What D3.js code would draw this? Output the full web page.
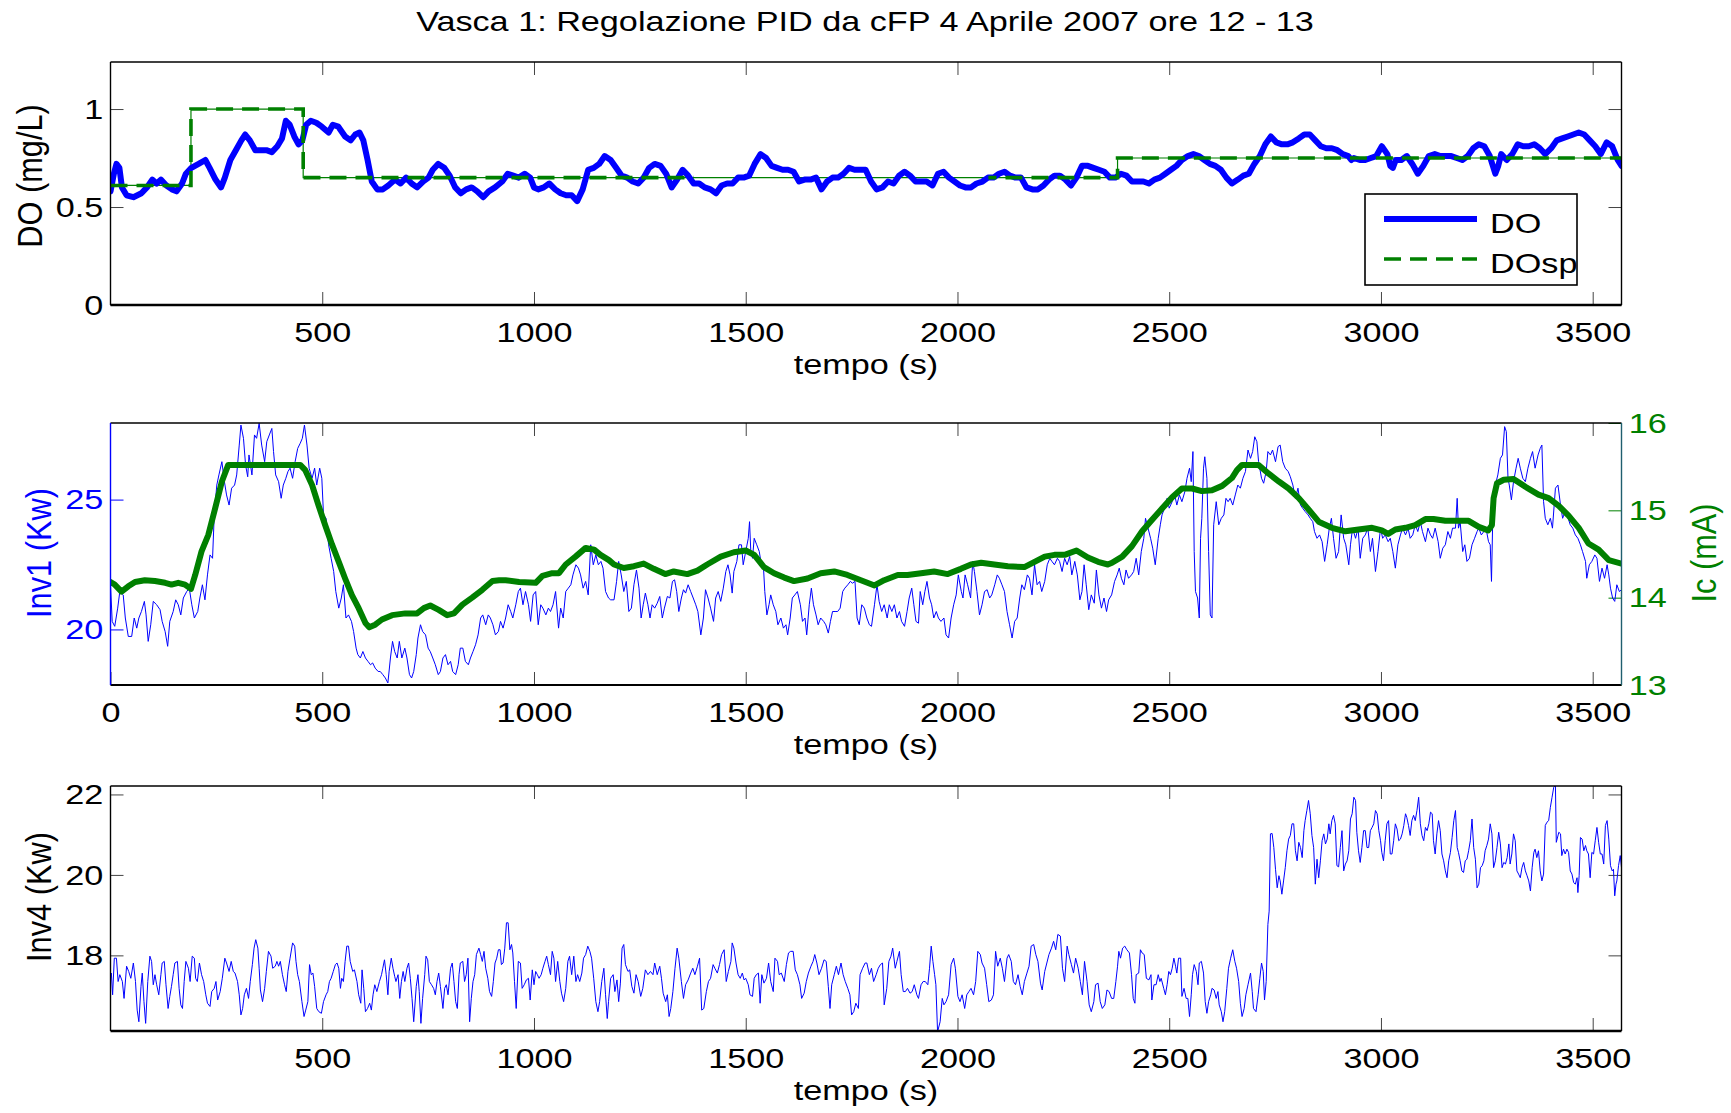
<!DOCTYPE html>
<html>
<head>
<meta charset="utf-8">
<script src="https://cdn.jsdelivr.net/npm/d3@7"></script>
<style>
  body { margin: 0; background: #fff; }
  svg { display: block; font-family: 'Liberation Sans', Arial, Helvetica, sans-serif; }
</style>
</head>
<body>
<svg id="chart" width="1731" height="1113"></svg>
<script>
const titleText = 'Vasca 1: Regolazione PID da cFP 4 Aprile 2007 ore 12 - 13';
const timeMax = 3568;
const timeTicks = [500, 1000, 1500, 2000, 2500, 3000, 3500];
const timeTicksWithZero = [0, 500, 1000, 1500, 2000, 2500, 3000, 3500];
const doTicks = [0, 0.5, 1];
const inv1Ticks = [20, 25];
const icTicks = [13, 14, 15, 16];
const inv4Ticks = [18, 20, 22];
const doDomain = [0, 1.24];
const inv1Domain = [17.86, 27.95];
const icDomain = [13, 16];
const inv4Domain = [16.12, 22.21];

// DO measured (mg/L), [time s, value]
const doMeasured = [[0,0.58],[8,0.67],[14,0.72],[21,0.70],[27,0.60],[38,0.56],[54,0.55],[73,0.57],[86,0.60],[99,0.64],[109,0.62],[119,0.64],[132,0.61],[145,0.59],[156,0.58],[169,0.62],[178,0.67],[191,0.70],[208,0.72],[224,0.74],[234,0.70],[248,0.64],[261,0.60],[270,0.65],[283,0.74],[296,0.79],[309,0.84],[318,0.87],[329,0.84],[342,0.79],[355,0.79],[368,0.79],[381,0.78],[394,0.81],[405,0.85],[414,0.94],[423,0.92],[434,0.86],[444,0.82],[453,0.84],[462,0.92],[473,0.94],[486,0.93],[499,0.91],[515,0.88],[525,0.92],[538,0.91],[554,0.86],[567,0.84],[578,0.87],[588,0.88],[597,0.84],[607,0.74],[617,0.63],[630,0.59],[643,0.59],[656,0.61],[672,0.64],[685,0.62],[698,0.65],[711,0.62],[724,0.60],[738,0.63],[751,0.65],[761,0.69],[774,0.72],[788,0.70],[801,0.66],[814,0.60],[827,0.57],[840,0.59],[853,0.60],[866,0.58],[880,0.55],[893,0.58],[908,0.60],[925,0.63],[938,0.67],[951,0.66],[964,0.65],[978,0.67],[991,0.65],[1000,0.60],[1010,0.59],[1023,0.60],[1036,0.62],[1050,0.59],[1063,0.57],[1076,0.56],[1089,0.56],[1102,0.53],[1115,0.59],[1128,0.69],[1141,0.70],[1154,0.72],[1167,0.76],[1181,0.74],[1194,0.70],[1207,0.66],[1220,0.65],[1233,0.63],[1246,0.62],[1259,0.65],[1272,0.70],[1285,0.72],[1299,0.71],[1312,0.67],[1325,0.60],[1338,0.64],[1351,0.69],[1364,0.66],[1377,0.62],[1390,0.62],[1403,0.60],[1417,0.59],[1430,0.57],[1443,0.61],[1456,0.62],[1469,0.62],[1482,0.65],[1495,0.65],[1508,0.66],[1521,0.72],[1535,0.77],[1548,0.75],[1561,0.71],[1574,0.70],[1587,0.69],[1600,0.69],[1613,0.68],[1626,0.63],[1639,0.64],[1653,0.64],[1666,0.65],[1679,0.59],[1692,0.63],[1705,0.65],[1718,0.65],[1731,0.67],[1744,0.70],[1757,0.69],[1770,0.69],[1783,0.69],[1796,0.63],[1809,0.59],[1823,0.60],[1836,0.63],[1849,0.62],[1862,0.66],[1875,0.68],[1888,0.66],[1901,0.63],[1914,0.63],[1927,0.63],[1941,0.61],[1954,0.67],[1967,0.68],[1980,0.65],[1993,0.63],[2006,0.61],[2019,0.60],[2032,0.60],[2045,0.62],[2059,0.63],[2072,0.65],[2085,0.65],[2098,0.67],[2111,0.68],[2124,0.66],[2137,0.65],[2150,0.65],[2163,0.60],[2177,0.59],[2190,0.59],[2203,0.61],[2216,0.64],[2229,0.66],[2242,0.66],[2255,0.64],[2268,0.61],[2281,0.65],[2294,0.71],[2308,0.71],[2321,0.70],[2334,0.69],[2347,0.68],[2360,0.65],[2373,0.65],[2386,0.67],[2399,0.66],[2412,0.63],[2426,0.63],[2439,0.63],[2452,0.62],[2465,0.64],[2478,0.65],[2491,0.67],[2504,0.69],[2517,0.71],[2530,0.74],[2544,0.76],[2557,0.77],[2570,0.76],[2583,0.74],[2596,0.72],[2609,0.71],[2622,0.69],[2635,0.65],[2648,0.62],[2662,0.64],[2675,0.66],[2688,0.67],[2701,0.72],[2714,0.76],[2727,0.82],[2740,0.86],[2753,0.83],[2766,0.82],[2779,0.82],[2792,0.83],[2806,0.85],[2819,0.87],[2832,0.87],[2845,0.84],[2858,0.81],[2871,0.80],[2884,0.80],[2897,0.79],[2910,0.77],[2923,0.76],[2930,0.74],[2936,0.75],[2950,0.74],[2963,0.74],[2976,0.75],[2989,0.76],[3002,0.81],[3015,0.77],[3022,0.71],[3028,0.70],[3035,0.74],[3048,0.74],[3061,0.76],[3074,0.72],[3087,0.67],[3100,0.71],[3113,0.76],[3127,0.77],[3140,0.76],[3153,0.76],[3166,0.76],[3179,0.75],[3192,0.74],[3205,0.76],[3218,0.80],[3231,0.82],[3244,0.81],[3257,0.76],[3270,0.67],[3277,0.71],[3284,0.77],[3297,0.74],[3310,0.77],[3323,0.82],[3336,0.81],[3349,0.81],[3362,0.82],[3375,0.80],[3388,0.77],[3402,0.80],[3415,0.84],[3428,0.85],[3441,0.86],[3454,0.87],[3467,0.88],[3480,0.87],[3493,0.84],[3506,0.81],[3519,0.77],[3533,0.83],[3546,0.81],[3559,0.74],[3568,0.71]];

// DO setpoint steps
const doSetpoint = [[0,0.61],[190,0.61],[190,1.0],[455,1.0],[455,0.65],[2378,0.65],[2378,0.75],[3568,0.75]];
// stretch where the dashed setpoint is not drawn (only the thin line shows)
const setpointDashGap = [1377, 2073];

// Inv1 power (Kw)
const inv1 = [[0,21.72],[4,20.31],[10,20.12],[17,20.82],[22,21.46],[30,21.33],[35,20.44],[42,19.73],[50,19.73],[56,20.44],[62,20.05],[67,20.44],[73,20.69],[80,21.08],[84,20.56],[89,19.54],[95,20.18],[101,21.08],[109,20.95],[117,20.76],[122,20.31],[129,19.92],[135,19.35],[140,20.31],[148,20.69],[154,21.14],[160,20.95],[166,20.56],[172,21.21],[180,21.46],[186,21.59],[192,20.95],[198,20.44],[206,20.69],[211,21.21],[217,21.72],[223,21.14],[229,22.10],[235,22.87],[241,22.74],[245,24.41],[251,25.56],[256,25.95],[263,26.46],[269,25.69],[274,25.18],[280,24.79],[286,25.44],[293,25.56],[298,25.95],[304,27.10],[308,27.87],[314,27.36],[319,26.33],[324,25.88],[327,26.72],[334,25.95],[340,27.49],[345,27.36],[351,27.94],[357,27.10],[364,26.46],[369,27.23],[375,27.49],[381,27.74],[385,26.85],[390,25.95],[397,25.69],[403,25.05],[408,25.56],[414,25.82],[419,26.08],[424,26.21],[430,25.82],[436,26.46],[442,26.97],[448,27.17],[453,27.36],[458,27.87],[464,27.10],[469,26.21],[476,25.82],[482,26.21],[487,25.56],[494,26.21],[499,25.82],[503,24.41],[509,24.28],[515,23.26],[521,22.74],[527,22.23],[532,21.46],[539,20.82],[545,21.21],[550,21.72],[556,20.44],[562,20.56],[569,20.31],[574,19.92],[580,19.28],[584,19.03],[590,18.90],[596,19.15],[602,18.90],[608,18.77],[614,18.64],[619,18.71],[625,18.51],[632,18.38],[637,18.38],[643,18.26],[649,18.13],[655,17.94],[661,18.90],[666,19.54],[671,19.15],[677,18.90],[682,19.54],[688,18.90],[695,19.28],[700,18.90],[706,18.26],[711,18.13],[716,18.38],[722,19.03],[726,19.67],[732,20.18],[737,19.92],[744,19.79],[750,19.28],[755,19.15],[761,18.90],[767,18.64],[774,18.26],[779,18.38],[785,18.90],[791,19.03],[797,18.64],[803,18.77],[808,18.38],[815,18.26],[821,18.64],[826,19.28],[832,19.28],[838,18.77],[845,18.64],[850,18.90],[856,19.15],[862,19.41],[868,19.79],[874,20.44],[879,20.56],[886,20.18],[892,20.56],[897,20.44],[903,20.18],[909,19.79],[916,19.92],[921,20.31],[927,20.05],[933,20.44],[939,20.95],[945,20.69],[950,20.44],[957,20.95],[963,21.46],[968,21.59],[974,20.95],[980,21.46],[987,20.95],[992,20.31],[998,21.33],[1004,21.46],[1010,20.18],[1016,20.95],[1021,20.82],[1028,20.56],[1034,20.82],[1039,20.69],[1045,20.95],[1051,21.46],[1058,20.05],[1063,20.82],[1069,20.44],[1075,21.46],[1081,21.59],[1087,21.72],[1092,22.10],[1099,22.49],[1105,22.36],[1110,22.10],[1116,21.59],[1122,21.85],[1128,21.33],[1134,23.26],[1140,22.49],[1146,22.87],[1152,22.49],[1158,22.62],[1163,22.36],[1169,21.46],[1176,21.21],[1181,21.14],[1189,21.14],[1195,21.85],[1200,22.62],[1206,22.10],[1212,21.46],[1218,21.85],[1224,20.69],[1230,20.82],[1236,21.72],[1242,22.29],[1248,21.59],[1253,20.44],[1258,20.95],[1263,21.40],[1269,20.95],[1274,20.44],[1279,20.95],[1285,20.82],[1291,21.01],[1297,21.27],[1303,20.44],[1308,20.82],[1315,21.27],[1321,21.21],[1327,21.85],[1332,21.91],[1337,21.46],[1342,20.69],[1348,21.21],[1353,21.53],[1358,21.40],[1364,21.72],[1370,21.46],[1376,21.21],[1382,20.95],[1387,20.69],[1394,19.79],[1400,20.44],[1405,21.53],[1411,21.21],[1417,20.82],[1424,20.31],[1429,21.21],[1435,21.46],[1441,21.08],[1447,21.59],[1453,22.23],[1458,22.49],[1463,22.10],[1468,21.40],[1472,22.23],[1479,22.62],[1484,23.26],[1490,23.26],[1494,22.49],[1500,23.00],[1506,23.51],[1509,24.15],[1512,23.00],[1516,22.74],[1520,23.51],[1526,23.26],[1532,23.00],[1537,22.49],[1542,22.36],[1545,21.46],[1550,20.56],[1555,20.95],[1559,21.33],[1565,20.95],[1571,20.69],[1576,20.18],[1583,20.44],[1589,20.05],[1595,20.18],[1599,19.79],[1605,20.44],[1610,21.21],[1616,21.33],[1622,21.46],[1629,20.95],[1634,20.31],[1640,20.44],[1644,19.79],[1650,20.95],[1655,21.59],[1660,20.95],[1666,20.56],[1671,20.18],[1677,20.44],[1684,20.31],[1689,20.18],[1695,19.86],[1700,20.31],[1705,20.69],[1711,20.69],[1717,20.69],[1723,20.82],[1729,21.46],[1734,21.59],[1741,21.72],[1747,21.85],[1752,21.78],[1758,21.85],[1763,20.44],[1768,20.18],[1774,20.95],[1780,20.82],[1786,20.44],[1792,20.18],[1797,20.12],[1804,20.95],[1810,21.72],[1815,21.08],[1821,20.69],[1827,20.95],[1834,20.44],[1839,20.95],[1845,20.69],[1851,20.95],[1857,20.44],[1863,20.69],[1868,20.31],[1875,20.12],[1881,20.69],[1886,21.21],[1892,21.59],[1897,20.95],[1902,20.31],[1908,20.24],[1912,21.46],[1918,20.95],[1923,21.46],[1928,21.85],[1934,21.21],[1939,20.95],[1944,20.44],[1950,20.69],[1955,20.44],[1961,20.31],[1968,20.44],[1973,19.79],[1979,19.67],[1985,20.44],[1991,20.95],[1997,21.33],[2002,22.10],[2009,21.46],[2013,21.21],[2018,22.10],[2024,21.72],[2031,21.21],[2036,22.62],[2040,22.23],[2046,21.46],[2052,20.56],[2058,20.95],[2064,21.46],[2070,21.53],[2076,21.21],[2081,21.33],[2088,21.72],[2094,22.10],[2099,21.97],[2105,21.72],[2111,21.46],[2117,20.69],[2123,20.18],[2129,19.67],[2135,20.31],[2141,20.44],[2147,21.21],[2152,21.72],[2158,21.53],[2165,22.10],[2170,21.97],[2176,21.33],[2182,22.49],[2188,21.72],[2194,21.85],[2199,21.46],[2206,21.85],[2212,22.49],[2218,22.74],[2223,22.62],[2229,22.49],[2236,22.74],[2241,22.62],[2247,22.23],[2253,22.74],[2259,22.49],[2265,22.81],[2270,22.10],[2277,22.62],[2283,22.10],[2289,21.14],[2294,21.46],[2299,22.49],[2304,21.72],[2310,20.76],[2316,21.33],[2323,21.01],[2328,22.29],[2334,21.33],[2340,20.82],[2346,21.21],[2352,20.69],[2357,21.14],[2364,21.33],[2371,21.85],[2377,22.10],[2382,22.36],[2387,21.97],[2393,21.72],[2398,22.29],[2404,21.97],[2411,22.10],[2416,22.23],[2422,22.74],[2428,22.10],[2434,23.00],[2440,23.51],[2444,24.28],[2450,23.90],[2456,23.51],[2461,23.13],[2467,22.49],[2474,23.51],[2479,24.03],[2483,24.41],[2489,24.67],[2495,25.05],[2500,24.67],[2507,24.92],[2513,25.18],[2518,24.79],[2524,25.18],[2530,24.92],[2537,25.31],[2542,25.82],[2548,26.21],[2552,25.69],[2556,26.85],[2559,23.00],[2562,21.46],[2567,21.21],[2571,20.44],[2574,23.51],[2577,24.28],[2581,26.21],[2584,26.65],[2589,25.82],[2593,23.00],[2597,20.56],[2601,20.44],[2605,24.03],[2611,24.92],[2617,24.03],[2623,24.28],[2629,24.41],[2634,25.05],[2639,24.92],[2644,25.05],[2650,24.79],[2656,25.18],[2662,25.56],[2668,25.44],[2674,25.82],[2680,26.08],[2686,26.91],[2692,26.59],[2697,26.85],[2702,27.42],[2707,27.23],[2711,26.46],[2718,25.82],[2723,25.63],[2729,26.08],[2733,26.85],[2739,26.72],[2744,26.91],[2751,26.46],[2757,27.04],[2762,27.10],[2768,26.46],[2774,26.21],[2781,26.08],[2786,25.88],[2792,25.56],[2798,25.05],[2804,25.44],[2810,24.79],[2815,24.67],[2821,24.54],[2828,24.41],[2833,24.28],[2839,24.15],[2843,23.77],[2849,23.51],[2855,23.64],[2861,23.38],[2867,22.62],[2873,23.26],[2878,23.90],[2883,24.28],[2888,23.51],[2894,22.74],[2900,23.00],[2906,24.41],[2912,23.51],[2917,23.26],[2924,22.49],[2928,23.26],[2933,23.90],[2940,23.51],[2946,23.90],[2951,22.74],[2957,23.51],[2963,23.64],[2969,23.90],[2975,23.00],[2980,23.51],[2987,22.23],[2993,23.00],[2999,23.90],[3004,23.51],[3010,23.64],[3017,23.38],[3022,23.51],[3028,23.00],[3034,22.36],[3040,23.26],[3046,23.64],[3051,23.90],[3058,23.64],[3064,23.90],[3069,23.51],[3075,23.64],[3081,24.03],[3087,23.77],[3093,24.15],[3098,23.77],[3105,23.38],[3111,23.90],[3117,23.64],[3122,23.51],[3128,23.90],[3135,23.38],[3140,22.74],[3146,23.13],[3152,23.26],[3158,23.77],[3164,23.51],[3169,23.90],[3176,23.90],[3180,25.05],[3183,23.90],[3187,24.15],[3193,23.00],[3198,23.26],[3203,22.62],[3209,22.74],[3215,23.26],[3221,23.51],[3227,23.77],[3231,23.90],[3237,23.64],[3243,23.77],[3248,23.90],[3254,23.38],[3258,23.26],[3261,21.85],[3264,24.28],[3270,25.56],[3276,25.95],[3282,26.59],[3287,26.72],[3292,27.81],[3296,27.62],[3300,25.82],[3303,25.56],[3308,24.99],[3313,25.69],[3319,26.21],[3324,26.59],[3329,26.21],[3335,25.82],[3341,25.69],[3347,26.21],[3353,26.59],[3358,26.85],[3364,26.21],[3371,26.72],[3376,26.97],[3380,27.10],[3384,24.92],[3388,24.28],[3394,24.03],[3400,24.28],[3405,23.90],[3412,25.44],[3418,25.56],[3424,24.79],[3429,24.28],[3435,24.54],[3442,24.28],[3447,24.03],[3453,23.90],[3459,23.64],[3465,23.51],[3471,23.26],[3476,23.00],[3483,22.62],[3486,21.97],[3492,22.49],[3498,22.62],[3505,22.87],[3510,22.74],[3516,21.85],[3522,22.36],[3528,21.97],[3534,22.49],[3538,22.10],[3542,21.59],[3547,21.21],[3552,21.08],[3557,21.72],[3563,21.46],[3568,21.53]];

// Ic control current (mA)
const ic = [[0,14.18],[10,14.15],[26,14.07],[42,14.13],[58,14.18],[81,14.20],[105,14.19],[129,14.17],[144,14.15],[160,14.17],[176,14.15],[190,14.10],[200,14.26],[215,14.53],[231,14.72],[247,15.02],[263,15.33],[278,15.52],[302,15.52],[381,15.52],[448,15.52],[460,15.46],[476,15.29],[491,15.06],[507,14.83],[523,14.61],[539,14.41],[554,14.22],[570,14.03],[586,13.88],[602,13.71],[611,13.66],[625,13.69],[641,13.75],[665,13.80],[696,13.82],[724,13.82],[740,13.88],[755,13.91],[775,13.86],[795,13.80],[811,13.82],[831,13.92],[854,14.00],[878,14.09],[902,14.19],[918,14.20],[933,14.20],[965,14.18],[1004,14.17],[1020,14.25],[1043,14.28],[1059,14.28],[1075,14.38],[1098,14.47],[1122,14.57],[1142,14.55],[1157,14.49],[1177,14.43],[1189,14.38],[1212,14.34],[1236,14.36],[1259,14.39],[1283,14.33],[1310,14.27],[1330,14.30],[1362,14.27],[1386,14.31],[1409,14.38],[1441,14.47],[1472,14.52],[1500,14.54],[1520,14.49],[1543,14.35],[1567,14.28],[1591,14.23],[1614,14.19],[1646,14.22],[1677,14.28],[1709,14.30],[1740,14.26],[1772,14.20],[1804,14.14],[1827,14.20],[1859,14.26],[1882,14.26],[1914,14.28],[1945,14.30],[1977,14.27],[2008,14.33],[2032,14.38],[2056,14.40],[2087,14.38],[2119,14.36],[2158,14.35],[2182,14.41],[2206,14.47],[2229,14.49],[2253,14.49],[2281,14.54],[2308,14.46],[2332,14.41],[2355,14.38],[2365,14.40],[2389,14.47],[2412,14.59],[2436,14.76],[2459,14.89],[2483,15.02],[2507,15.15],[2530,15.25],[2554,15.25],[2577,15.22],[2601,15.23],[2625,15.28],[2648,15.37],[2660,15.46],[2672,15.52],[2711,15.52],[2735,15.42],[2759,15.33],[2782,15.25],[2806,15.14],[2829,15.01],[2853,14.87],[2884,14.80],[2916,14.76],[2947,14.78],[2979,14.80],[3002,14.77],[3017,14.73],[3034,14.78],[3058,14.80],[3081,14.83],[3105,14.90],[3124,14.90],[3152,14.88],[3207,14.88],[3231,14.81],[3253,14.77],[3262,14.83],[3266,15.14],[3274,15.31],[3290,15.35],[3313,15.36],[3341,15.27],[3372,15.18],[3396,15.14],[3420,15.05],[3443,14.94],[3467,14.80],[3490,14.62],[3514,14.55],[3538,14.43],[3568,14.39]];

// Inv4 power (Kw)
const inv4 = [[0,17.43],[2,17.56],[5,17.02],[9,17.93],[14,17.93],[18,17.35],[22,17.52],[28,17.35],[32,16.93],[38,17.73],[43,17.60],[48,17.43],[54,17.81],[59,17.35],[63,16.64],[67,16.35],[72,17.23],[75,17.56],[79,16.85],[83,16.31],[88,17.35],[93,17.98],[97,17.85],[101,17.27],[105,17.52],[109,17.27],[114,17.02],[119,17.52],[122,17.81],[127,17.85],[131,17.27],[136,16.68],[140,16.98],[144,17.23],[148,17.52],[152,17.81],[158,17.85],[162,17.18],[166,16.77],[170,16.68],[174,17.35],[178,17.85],[184,17.68],[188,17.35],[193,17.98],[198,17.93],[201,17.43],[205,17.35],[210,17.81],[215,17.52],[220,17.35],[225,17.02],[229,16.81],[235,16.73],[239,17.10],[245,17.18],[249,17.35],[253,16.89],[259,17.10],[264,17.43],[270,17.93],[274,17.81],[280,17.60],[285,17.85],[290,17.60],[294,17.56],[300,17.35],[304,17.02],[308,16.52],[312,16.68],[316,17.02],[321,17.18],[326,16.93],[330,17.35],[335,17.77],[339,18.18],[343,18.39],[348,18.18],[351,17.68],[354,17.14],[359,16.85],[364,17.18],[368,17.60],[373,18.10],[379,17.98],[383,17.68],[389,17.73],[393,17.85],[397,17.73],[401,17.85],[406,17.52],[411,17.27],[415,17.10],[419,17.60],[424,17.93],[430,18.31],[435,18.23],[438,17.85],[442,17.52],[446,17.35],[452,16.85],[457,16.48],[461,16.64],[466,16.85],[470,17.77],[474,17.52],[478,17.56],[482,17.23],[487,16.68],[492,16.60],[498,16.56],[503,16.85],[509,17.02],[513,17.10],[517,17.35],[521,17.43],[526,17.60],[531,17.77],[535,17.81],[539,17.68],[543,17.18],[546,17.43],[550,17.35],[554,17.85],[558,18.23],[562,18.23],[566,17.85],[572,17.60],[576,17.64],[582,17.35],[586,17.02],[591,16.81],[594,17.64],[598,17.18],[602,16.60],[607,16.68],[612,16.81],[616,16.64],[620,17.02],[624,17.27],[629,17.10],[635,17.35],[640,17.52],[643,17.68],[647,17.89],[651,17.52],[655,17.02],[658,17.60],[663,17.93],[667,17.68],[671,17.48],[674,17.35],[679,17.52],[683,16.93],[687,17.35],[691,17.60],[695,17.35],[700,17.68],[704,17.81],[708,17.43],[712,16.93],[716,16.35],[722,17.23],[726,17.52],[729,17.10],[733,16.31],[737,16.93],[742,17.52],[745,17.98],[749,17.89],[753,17.35],[758,17.27],[763,17.18],[767,17.02],[771,17.35],[775,17.56],[779,17.23],[785,16.68],[789,17.18],[793,17.27],[797,17.02],[803,17.68],[807,17.81],[811,17.35],[815,16.85],[819,16.68],[823,17.52],[826,17.81],[832,17.85],[836,17.35],[840,17.52],[844,17.93],[848,16.35],[852,16.93],[856,17.35],[860,17.52],[864,18.02],[870,18.18],[874,18.02],[878,17.85],[882,18.10],[886,17.68],[891,17.43],[895,17.10],[900,16.98],[904,17.35],[908,17.81],[912,17.93],[916,18.14],[920,18.14],[923,17.77],[927,17.81],[931,18.18],[935,18.81],[939,18.81],[943,18.14],[947,18.27],[950,18.06],[954,17.35],[958,16.68],[963,17.85],[968,17.81],[972,17.18],[977,17.27],[982,17.39],[987,17.43],[991,16.89],[996,17.64],[1000,17.27],[1004,17.60],[1008,17.52],[1012,17.43],[1017,17.52],[1021,17.68],[1026,17.85],[1030,17.98],[1034,17.77],[1039,17.52],[1043,18.10],[1047,17.93],[1051,17.35],[1056,17.85],[1061,17.35],[1065,17.06],[1070,16.85],[1075,17.18],[1080,17.85],[1084,17.98],[1089,17.52],[1094,17.98],[1099,17.35],[1103,17.52],[1108,17.35],[1113,17.56],[1117,17.93],[1122,18.02],[1127,18.23],[1132,18.10],[1136,17.93],[1141,17.43],[1146,16.85],[1151,16.60],[1155,16.85],[1160,17.35],[1165,17.68],[1169,17.02],[1173,16.43],[1176,16.85],[1181,17.43],[1187,17.52],[1191,17.10],[1196,17.39],[1200,16.85],[1204,17.31],[1208,18.18],[1212,18.27],[1216,17.77],[1222,17.60],[1226,17.64],[1231,17.23],[1236,17.06],[1241,17.52],[1246,17.35],[1252,16.98],[1257,17.18],[1263,17.64],[1269,17.52],[1275,17.60],[1281,17.52],[1285,17.81],[1291,17.52],[1297,17.73],[1301,17.43],[1305,17.06],[1311,16.85],[1315,17.02],[1319,16.48],[1323,16.68],[1328,17.10],[1333,17.68],[1338,18.18],[1342,17.93],[1348,17.35],[1353,16.93],[1358,17.27],[1364,17.39],[1370,17.56],[1375,17.68],[1380,17.52],[1386,17.73],[1391,17.93],[1396,16.64],[1401,16.68],[1407,17.10],[1412,17.35],[1417,17.43],[1423,17.77],[1427,17.68],[1433,17.56],[1438,17.77],[1443,18.02],[1449,18.14],[1454,17.35],[1459,17.60],[1465,17.85],[1468,18.31],[1472,18.18],[1477,17.81],[1482,17.52],[1487,17.43],[1492,17.56],[1496,17.39],[1500,17.43],[1506,17.27],[1510,17.02],[1516,16.98],[1520,17.43],[1525,17.52],[1530,17.56],[1534,16.81],[1538,17.52],[1543,17.31],[1549,17.43],[1554,17.81],[1559,17.35],[1565,17.10],[1569,17.93],[1575,17.85],[1579,17.52],[1584,17.56],[1591,17.35],[1596,17.77],[1601,18.06],[1606,18.10],[1612,18.10],[1617,17.64],[1622,17.52],[1628,17.27],[1632,16.93],[1638,17.06],[1643,17.35],[1648,17.56],[1654,17.73],[1659,17.85],[1663,18.02],[1668,17.81],[1673,17.52],[1679,17.68],[1685,17.89],[1690,17.85],[1695,17.23],[1699,16.68],[1703,17.27],[1709,17.52],[1714,17.73],[1719,17.52],[1725,17.81],[1730,17.52],[1735,17.35],[1741,17.18],[1746,17.02],[1750,16.52],[1755,16.60],[1760,16.81],[1766,16.68],[1770,17.52],[1776,17.68],[1782,17.81],[1786,17.81],[1792,17.52],[1797,17.68],[1802,17.35],[1808,17.52],[1813,17.68],[1818,17.77],[1823,17.81],[1827,16.77],[1833,17.18],[1838,17.85],[1843,17.98],[1847,18.18],[1853,17.68],[1857,17.85],[1863,18.10],[1867,17.52],[1872,17.10],[1877,17.10],[1882,17.18],[1888,17.06],[1893,17.10],[1898,17.27],[1904,17.02],[1908,16.93],[1914,17.27],[1919,17.35],[1924,17.35],[1930,17.27],[1934,17.68],[1938,18.23],[1942,17.85],[1946,17.52],[1949,17.27],[1953,16.10],[1959,16.35],[1964,16.93],[1968,16.77],[1973,16.85],[1979,17.02],[1985,17.77],[1991,17.93],[1995,17.68],[2001,16.98],[2006,16.85],[2011,17.02],[2017,16.68],[2022,17.02],[2027,17.10],[2032,17.18],[2038,17.02],[2043,17.35],[2048,18.10],[2054,18.02],[2058,17.81],[2064,17.68],[2069,17.27],[2074,16.85],[2080,16.89],[2085,17.02],[2090,18.10],[2095,17.73],[2101,17.93],[2106,17.68],[2111,17.35],[2117,17.93],[2121,18.02],[2127,17.85],[2132,17.35],[2137,17.27],[2143,17.52],[2148,17.23],[2153,17.02],[2158,17.35],[2164,17.56],[2169,17.73],[2174,18.23],[2180,18.27],[2185,18.02],[2190,17.85],[2196,17.31],[2200,17.14],[2206,17.60],[2211,17.81],[2216,18.02],[2222,18.18],[2227,18.35],[2232,18.14],[2237,18.52],[2243,18.48],[2248,17.68],[2253,17.35],[2259,18.23],[2263,18.02],[2269,17.77],[2274,17.56],[2279,17.93],[2285,17.68],[2290,17.35],[2295,17.02],[2300,17.85],[2306,17.35],[2311,16.77],[2316,16.60],[2322,16.85],[2326,17.27],[2332,17.31],[2337,16.85],[2342,16.68],[2348,16.77],[2353,17.14],[2358,17.10],[2364,16.93],[2369,16.93],[2374,17.35],[2378,17.73],[2381,18.10],[2385,17.93],[2390,18.18],[2395,18.23],[2400,18.14],[2406,18.06],[2411,17.52],[2415,16.93],[2419,16.81],[2422,17.52],[2428,17.56],[2432,18.14],[2436,18.06],[2441,18.02],[2446,17.43],[2452,17.39],[2457,17.52],[2459,16.89],[2464,17.27],[2469,17.27],[2474,17.52],[2478,17.35],[2481,17.43],[2487,17.18],[2491,17.02],[2495,17.27],[2499,17.60],[2503,17.52],[2507,17.68],[2511,17.93],[2515,17.73],[2518,17.56],[2522,17.93],[2527,17.93],[2530,16.98],[2535,17.18],[2540,16.93],[2544,16.93],[2548,16.48],[2552,17.02],[2555,17.52],[2559,17.77],[2564,17.60],[2568,17.27],[2571,17.81],[2576,17.85],[2581,17.56],[2585,16.85],[2589,16.56],[2593,16.85],[2598,17.02],[2601,17.18],[2606,17.14],[2611,16.93],[2615,17.10],[2618,16.77],[2623,16.60],[2627,16.35],[2631,16.60],[2636,17.18],[2640,17.68],[2645,17.93],[2650,18.14],[2655,17.85],[2659,17.68],[2664,17.35],[2668,16.81],[2672,16.48],[2677,16.68],[2681,17.02],[2686,17.27],[2692,17.56],[2696,17.10],[2699,16.68],[2705,16.60],[2710,17.02],[2714,17.43],[2718,17.81],[2722,17.60],[2725,16.89],[2729,17.35],[2733,18.77],[2736,19.10],[2739,21.02],[2743,21.03],[2747,20.68],[2751,20.14],[2755,19.68],[2759,19.98],[2762,19.85],[2766,19.52],[2770,19.85],[2774,20.18],[2778,20.60],[2782,20.89],[2786,20.98],[2790,21.27],[2794,21.27],[2798,20.60],[2802,20.35],[2806,20.81],[2810,20.68],[2814,20.43],[2818,21.10],[2821,21.35],[2825,21.60],[2829,21.85],[2833,21.52],[2837,20.98],[2841,20.68],[2845,19.77],[2849,20.39],[2853,19.93],[2857,20.35],[2861,20.85],[2865,21.02],[2869,20.77],[2873,20.89],[2877,21.27],[2880,21.02],[2884,21.35],[2888,21.48],[2892,21.27],[2896,20.23],[2900,20.20],[2904,20.68],[2908,21.10],[2912,20.10],[2916,20.27],[2920,20.35],[2924,20.60],[2928,21.39],[2932,21.52],[2936,21.93],[2940,21.85],[2943,21.06],[2947,20.60],[2951,20.31],[2955,20.68],[2959,21.10],[2963,21.10],[2967,20.68],[2971,20.68],[2975,21.10],[2979,21.18],[2983,21.27],[2987,21.60],[2991,21.52],[2995,21.10],[2999,20.85],[3002,20.56],[3006,20.35],[3010,20.85],[3014,21.27],[3018,21.35],[3022,20.52],[3026,20.52],[3030,20.85],[3034,21.27],[3038,21.14],[3042,20.85],[3046,20.89],[3050,21.02],[3054,21.23],[3058,21.52],[3061,21.43],[3065,21.23],[3069,20.98],[3073,21.35],[3077,21.48],[3081,21.35],[3085,21.60],[3089,21.93],[3093,21.27],[3097,20.98],[3101,20.85],[3105,21.18],[3109,21.10],[3113,21.27],[3117,21.56],[3121,21.52],[3124,20.85],[3128,20.52],[3132,21.02],[3136,21.35],[3140,21.10],[3144,20.52],[3148,20.35],[3152,20.10],[3156,19.93],[3160,20.35],[3164,20.56],[3168,20.93],[3172,21.35],[3176,21.60],[3180,20.68],[3183,20.56],[3187,20.35],[3191,20.10],[3195,20.06],[3199,20.35],[3203,20.39],[3207,20.60],[3211,20.85],[3215,21.39],[3219,20.68],[3223,20.39],[3227,19.68],[3231,19.77],[3235,20.18],[3239,20.23],[3243,20.35],[3246,20.60],[3250,20.73],[3254,20.89],[3258,21.27],[3262,21.02],[3266,20.18],[3270,20.35],[3274,20.68],[3278,21.06],[3282,20.77],[3286,20.18],[3290,20.31],[3294,20.27],[3298,20.43],[3302,20.77],[3305,20.27],[3309,20.52],[3313,21.02],[3317,20.85],[3321,20.10],[3325,20.02],[3329,19.93],[3333,20.18],[3337,20.31],[3341,20.10],[3345,19.98],[3349,19.85],[3353,19.60],[3357,20.18],[3361,20.56],[3364,20.64],[3368,20.43],[3372,20.60],[3376,20.10],[3380,19.85],[3384,20.02],[3388,21.23],[3392,21.31],[3396,21.35],[3400,21.68],[3404,21.93],[3408,22.18],[3412,22.23],[3414,20.81],[3420,21.06],[3424,21.02],[3427,20.48],[3431,20.64],[3435,20.52],[3439,20.64],[3443,20.56],[3447,20.10],[3451,20.02],[3455,19.81],[3459,19.77],[3463,19.93],[3465,19.56],[3468,19.98],[3471,20.93],[3475,20.89],[3479,20.60],[3483,20.73],[3486,20.60],[3490,20.52],[3494,19.93],[3498,20.56],[3502,20.52],[3506,20.85],[3510,21.18],[3514,20.81],[3518,20.52],[3522,20.52],[3526,20.27],[3530,21.23],[3534,21.35],[3538,20.89],[3542,20.23],[3546,20.10],[3549,20.14],[3552,19.48],[3555,19.77],[3557,19.85],[3561,20.23],[3565,20.48],[3568,20.18]];

const blue = '#0000ff';
const green = '#008000';
const fontSize = 28.5;
const stretch = 1.2; // the figure is wider than its text would be
const plotLeft = 110.5;
const plotRight = 1621.5;
const panelDo = { top: 62, bottom: 305 };
const panelInv1 = { top: 423, bottom: 685 };
const panelInv4 = { top: 786, bottom: 1031 };
const plainNumber = d => String(d);

const svg = d3.select('#chart');
svg.append('rect').attr('width', 1731).attr('height', 1113).attr('fill', '#fff');

const x = d3.scaleLinear().domain([0, timeMax]).range([plotLeft, plotRight]);
const yDo = d3.scaleLinear().domain(doDomain).range([panelDo.bottom, panelDo.top]);
const yInv1 = d3.scaleLinear().domain(inv1Domain).range([panelInv1.bottom, panelInv1.top]);
const yIc = d3.scaleLinear().domain(icDomain).range([panelInv1.bottom, panelInv1.top]);
const yInv4 = d3.scaleLinear().domain(inv4Domain).range([panelInv4.bottom, panelInv4.top]);

function addText(str, px, py, anchor, colour) {
  return svg
    .append('text')
    .attr('transform', 'translate(' + px + ',' + py + ') scale(' + stretch + ',1)')
    .attr('text-anchor', anchor)
    .attr('font-size', fontSize)
    .attr('fill', colour || '#000')
    .text(str);
}

function addYLabel(str, px, py, colour) {
  return svg
    .append('text')
    .attr(
      'transform',
      'translate(' + px + ',' + py + ') scale(' + stretch + ',1) rotate(-90) scale(1.08,1)'
    )
    .attr('text-anchor', 'middle')
    .attr('font-size', fontSize)
    .attr('fill', colour)
    .text(str);
}

function styleAxis(g, colour, tickColour) {
  g.select('.domain').remove();
  g.attr('font-size', fontSize).attr('font-family', null).style('color', colour);
  g.selectAll('.tick line').attr('stroke', tickColour || 'currentColor');
  g.selectAll('.tick text').attr('transform', 'scale(' + stretch + ',1)');
}

function clipFor(id, panel) {
  svg
    .append('clipPath')
    .attr('id', id)
    .append('rect')
    .attr('x', plotLeft)
    .attr('y', panel.top)
    .attr('width', plotRight - plotLeft)
    .attr('height', panel.bottom - panel.top);
}

function frame(panel, leftColour, rightColour, bottomWidth) {
  const f = svg.append('g').attr('fill', 'none');
  f.append('line').attr('x1', plotLeft).attr('x2', plotRight)
    .attr('y1', panel.top).attr('y2', panel.top)
    .attr('stroke', '#000').attr('stroke-width', 1.4);
  f.append('line').attr('x1', plotLeft).attr('x2', plotRight)
    .attr('y1', panel.bottom).attr('y2', panel.bottom)
    .attr('stroke', '#000').attr('stroke-width', bottomWidth);
  f.append('line').attr('x1', plotLeft).attr('x2', plotLeft)
    .attr('y1', panel.top).attr('y2', panel.bottom)
    .attr('stroke', leftColour).attr('stroke-width', 1.4);
  f.append('line').attr('x1', plotRight).attr('x2', plotRight)
    .attr('y1', panel.top).attr('y2', panel.bottom)
    .attr('stroke', rightColour).attr('stroke-width', 1.4);
}

function timeAxes(panel, bottomTicks) {
  const bottom = svg
    .append('g')
    .attr('transform', 'translate(0,' + panel.bottom + ')')
    .call(
      d3.axisBottom(x).tickValues(bottomTicks).tickFormat(plainNumber)
        .tickSizeInner(-13).tickSizeOuter(0).tickPadding(17)
    );
  styleAxis(bottom, '#000', '#444');
  const top = svg
    .append('g')
    .attr('transform', 'translate(0,' + panel.top + ')')
    .call(d3.axisTop(x).tickValues(timeTicks).tickSizeInner(-13).tickSizeOuter(0).tickFormat(''));
  styleAxis(top, '#000', '#444');
  addText('tempo (s)', (plotLeft + plotRight) / 2, panel.bottom + 69, 'middle');
}

const lineOf = yScale =>
  d3
    .line()
    .x(d => x(d[0]))
    .y(d => yScale(d[1]));

clipFor('clipDo', panelDo);
clipFor('clipInv1', panelInv1);
clipFor('clipInv4', panelInv4);

// dashed setpoint is missing over part of the run
const dashClip = svg.append('clipPath').attr('id', 'clipDash');
dashClip
  .append('rect')
  .attr('x', plotLeft)
  .attr('y', panelDo.top)
  .attr('width', x(setpointDashGap[0]) - plotLeft)
  .attr('height', panelDo.bottom - panelDo.top);
dashClip
  .append('rect')
  .attr('x', x(setpointDashGap[1]))
  .attr('y', panelDo.top)
  .attr('width', plotRight - x(setpointDashGap[1]))
  .attr('height', panelDo.bottom - panelDo.top);

// Title
addText(titleText, 865, 31, 'middle');

// ---- Panel 1: DO ----
timeAxes(panelDo, timeTicks);
const doLeft = svg
  .append('g')
  .attr('transform', 'translate(' + plotLeft + ',0)')
  .call(
    d3.axisLeft(yDo).tickValues(doTicks).tickFormat(plainNumber)
      .tickSizeInner(-13).tickSizeOuter(0).tickPadding(6)
  );
styleAxis(doLeft, '#000', '#444');
const doRight = svg
  .append('g')
  .attr('transform', 'translate(' + plotRight + ',0)')
  .call(d3.axisRight(yDo).tickValues(doTicks).tickSizeInner(-13).tickSizeOuter(0).tickFormat(''));
styleAxis(doRight, '#000', '#444');

const doLayer = svg.append('g').attr('clip-path', 'url(#clipDo)');
doLayer
  .append('path')
  .datum(doSetpoint)
  .attr('d', lineOf(yDo))
  .attr('fill', 'none')
  .attr('stroke', green)
  .attr('stroke-width', 1.2);
doLayer
  .append('path')
  .datum(doMeasured)
  .attr('d', lineOf(yDo))
  .attr('fill', 'none')
  .attr('stroke', blue)
  .attr('stroke-width', 6)
  .attr('stroke-linejoin', 'round')
  .attr('stroke-linecap', 'round');
svg
  .append('g')
  .attr('clip-path', 'url(#clipDash)')
  .append('path')
  .datum(doSetpoint)
  .attr('d', lineOf(yDo))
  .attr('fill', 'none')
  .attr('stroke', green)
  .attr('stroke-width', 3.6)
  .attr('stroke-dasharray', '17,9');

frame(panelDo, '#000', '#000', 2.6);
addYLabel('DO (mg/L)', 42, 176, '#000');

// Legend
const legend = svg.append('g');
legend
  .append('rect')
  .attr('x', 1365)
  .attr('y', 194)
  .attr('width', 212)
  .attr('height', 91)
  .attr('fill', '#fff')
  .attr('stroke', '#000')
  .attr('stroke-width', 1.6);
legend
  .append('line')
  .attr('x1', 1384).attr('x2', 1477).attr('y1', 219).attr('y2', 219)
  .attr('stroke', blue).attr('stroke-width', 6);
legend
  .append('line')
  .attr('x1', 1384).attr('x2', 1477).attr('y1', 259).attr('y2', 259)
  .attr('stroke', green).attr('stroke-width', 3.6).attr('stroke-dasharray', '17,9');
addText('DO', 1490, 233, 'start');
addText('DOsp', 1490, 273, 'start');

// ---- Panel 2: Inv1 and Ic ----
timeAxes(panelInv1, timeTicksWithZero);
const inv1Axis = svg
  .append('g')
  .attr('transform', 'translate(' + plotLeft + ',0)')
  .call(
    d3.axisLeft(yInv1).tickValues(inv1Ticks).tickFormat(plainNumber)
      .tickSizeInner(-13).tickSizeOuter(0).tickPadding(6)
  );
styleAxis(inv1Axis, blue);
const icAxis = svg
  .append('g')
  .attr('transform', 'translate(' + plotRight + ',0)')
  .call(
    d3.axisRight(yIc).tickValues(icTicks).tickFormat(plainNumber)
      .tickSizeInner(-13).tickSizeOuter(0).tickPadding(6)
  );
styleAxis(icAxis, green);

const inv1Layer = svg.append('g').attr('clip-path', 'url(#clipInv1)');
inv1Layer
  .append('path')
  .datum(inv1)
  .attr('d', lineOf(yInv1))
  .attr('fill', 'none')
  .attr('stroke', blue)
  .attr('stroke-width', 1);
inv1Layer
  .append('path')
  .datum(ic)
  .attr('d', lineOf(yIc))
  .attr('fill', 'none')
  .attr('stroke', green)
  .attr('stroke-width', 6)
  .attr('stroke-linejoin', 'round')
  .attr('stroke-linecap', 'round');

frame(panelInv1, blue, '#1f5f6f', 1.8);
addYLabel('Inv1 (Kw)', 51, 553, blue);
addYLabel('Ic (mA)', 1716, 553, green);

// ---- Panel 3: Inv4 ----
timeAxes(panelInv4, timeTicks);
const inv4Left = svg
  .append('g')
  .attr('transform', 'translate(' + plotLeft + ',0)')
  .call(
    d3.axisLeft(yInv4).tickValues(inv4Ticks).tickFormat(plainNumber)
      .tickSizeInner(-13).tickSizeOuter(0).tickPadding(6)
  );
styleAxis(inv4Left, '#000', '#444');
const inv4Right = svg
  .append('g')
  .attr('transform', 'translate(' + plotRight + ',0)')
  .call(d3.axisRight(yInv4).tickValues(inv4Ticks).tickSizeInner(-13).tickSizeOuter(0).tickFormat(''));
styleAxis(inv4Right, '#000', '#444');

svg
  .append('g')
  .attr('clip-path', 'url(#clipInv4)')
  .append('path')
  .datum(inv4)
  .attr('d', lineOf(yInv4))
  .attr('fill', 'none')
  .attr('stroke', blue)
  .attr('stroke-width', 1);

frame(panelInv4, '#000', '#000', 2.6);
addYLabel('Inv4 (Kw)', 51, 897, '#000');
</script>
</body>
</html>
